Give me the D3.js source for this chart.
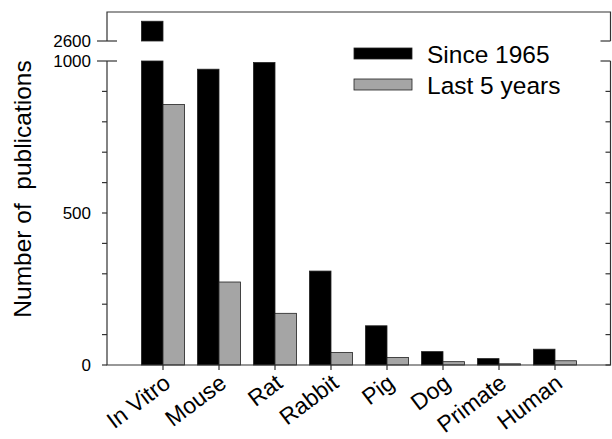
<!DOCTYPE html>
<html>
<head>
<meta charset="utf-8">
<script src="https://cdn.jsdelivr.net/npm/d3@7"></script>
<style>
  body { margin: 0; background: #fff; }
  text { font-family: "Liberation Sans", Arial, Helvetica, sans-serif; fill: #000; }
</style>
</head>
<body>
<svg id="chart" width="612" height="439"></svg>
<script>
// data
const categories = ["In Vitro", "Mouse", "Rat", "Rabbit", "Pig", "Dog", "Primate", "Human"];
const since1965 = [2665, 973, 995, 309, 129, 44, 21, 52];
const last5 = [857, 273, 170, 41, 25, 11, 4, 14];
const seriesNames = ["Since 1965", "Last 5 years"];
const lowTicks = [0, 500, 1000];
const highTicks = [2600];

const colors = ["#000000", "#a5a5a5"];
const axisColor = "#333";

const plotLeft = 107, plotRight = 611, plotTop = 12, plotBottom = 365;
const breakLow = 61, breakHigh = 41;

const svg = d3.select("#chart");

// scales: lower segment 0-1000, upper segment from 2600 (same px per unit)
const x = d3.scalePoint().domain(categories).range([plotLeft, plotRight]).padding(1);
const yLow = d3.scaleLinear().domain([0, 1000]).range([plotBottom, breakLow]);
const pxPerUnit = (plotBottom - breakLow) / 1000;
const yHigh = d3.scaleLinear().domain([2600, 2600 + (breakHigh - plotTop) / pxPerUnit]).range([breakHigh, plotTop]);
const barW = x.step() * 0.385;

const rows = categories.map((c, i) => ({ c, vals: [since1965[i], last5[i]] }));

// ******************* bars
const g = svg.append("g");
rows.forEach(r => {
  r.vals.forEach((v, k) => {
    const x0 = k === 0 ? x(r.c) - barW : x(r.c);
    const lowV = Math.min(v, 1000);
    g.append("rect")
      .attr("x", x0).attr("width", barW)
      .attr("y", yLow(lowV)).attr("height", yLow(0) - yLow(lowV))
      .attr("fill", colors[k]).attr("stroke", "#222").attr("stroke-width", 0.8);
    if (v > 2600) {
      g.append("rect")
        .attr("x", x0).attr("width", barW)
        .attr("y", yHigh(v)).attr("height", yHigh(2600) - yHigh(v))
        .attr("fill", colors[k]).attr("stroke", "#222").attr("stroke-width", 0.8);
    }
  });
});

// ******************* frame with broken axes
const frame = svg.append("g").attr("stroke", axisColor).attr("stroke-width", 1.2).attr("fill", "none");
frame.append("path").attr("d", `M${plotLeft},${breakHigh}V${plotTop}H${plotRight - 0.5}V${breakHigh}`);
frame.append("path").attr("d", `M${plotLeft},${breakLow}V${plotBottom}H${plotRight - 0.5}V${breakLow}`);

// minor ticks every 100 (left outward, right inward)
const minor = d3.range(0, 1000, 100);
frame.selectAll(".ml").data(minor).enter().append("line")
  .attr("x1", plotLeft - 5).attr("x2", plotLeft)
  .attr("y1", d => yLow(d)).attr("y2", d => yLow(d));
frame.selectAll(".mr").data(minor).enter().append("line")
  .attr("x1", plotRight - 5.5).attr("x2", plotRight - 0.5)
  .attr("y1", d => yLow(d)).attr("y2", d => yLow(d));

// break ticks
[yLow(1000), yHigh(2600)].forEach(yy => {
  frame.append("line").attr("x1", plotLeft - 10).attr("x2", plotLeft + 10).attr("y1", yy).attr("y2", yy);
  frame.append("line").attr("x1", plotRight - 10.5).attr("x2", plotRight - 0.5).attr("y1", yy).attr("y2", yy);
});

// category ticks
frame.selectAll(".xt").data(categories).enter().append("line")
  .attr("x1", d => x(d)).attr("x2", d => x(d))
  .attr("y1", plotBottom).attr("y2", plotBottom + 5);

// ******************* tick labels
svg.selectAll(".yl").data(lowTicks).enter().append("text")
  .attr("x", 91).attr("y", d => yLow(d) + 6)
  .attr("text-anchor", "end").style("font-size", "17px").text(d => d);
svg.selectAll(".yh").data(highTicks).enter().append("text")
  .attr("x", 91).attr("y", d => yHigh(d) + 6)
  .attr("text-anchor", "end").style("font-size", "17px").text(d => d);

svg.selectAll(".xl").data(categories).enter().append("text")
  .attr("text-anchor", "end")
  .attr("transform", d => `translate(${x(d) + 9},${plotBottom + 21}) rotate(-37)`)
  .style("font-size", "23px").text(d => d);

// y title
svg.append("text")
  .attr("transform", "translate(31,189) rotate(-90)")
  .attr("text-anchor", "middle").style("font-size", "24.5px")
  .text("Number of\u00a0 publications");

// ******************* legend
const leg = svg.selectAll(".leg").data(seriesNames).enter().append("g")
  .attr("transform", (d, i) => `translate(354,${48 + i * 31})`);
leg.append("rect").attr("width", 58).attr("height", 11)
  .attr("fill", (d, i) => colors[i]).attr("stroke", "#222").attr("stroke-width", 0.8);
leg.append("text").attr("x", 73).attr("y", 15).style("font-size", "24.5px").text(d => d);
</script>
</body>
</html>
